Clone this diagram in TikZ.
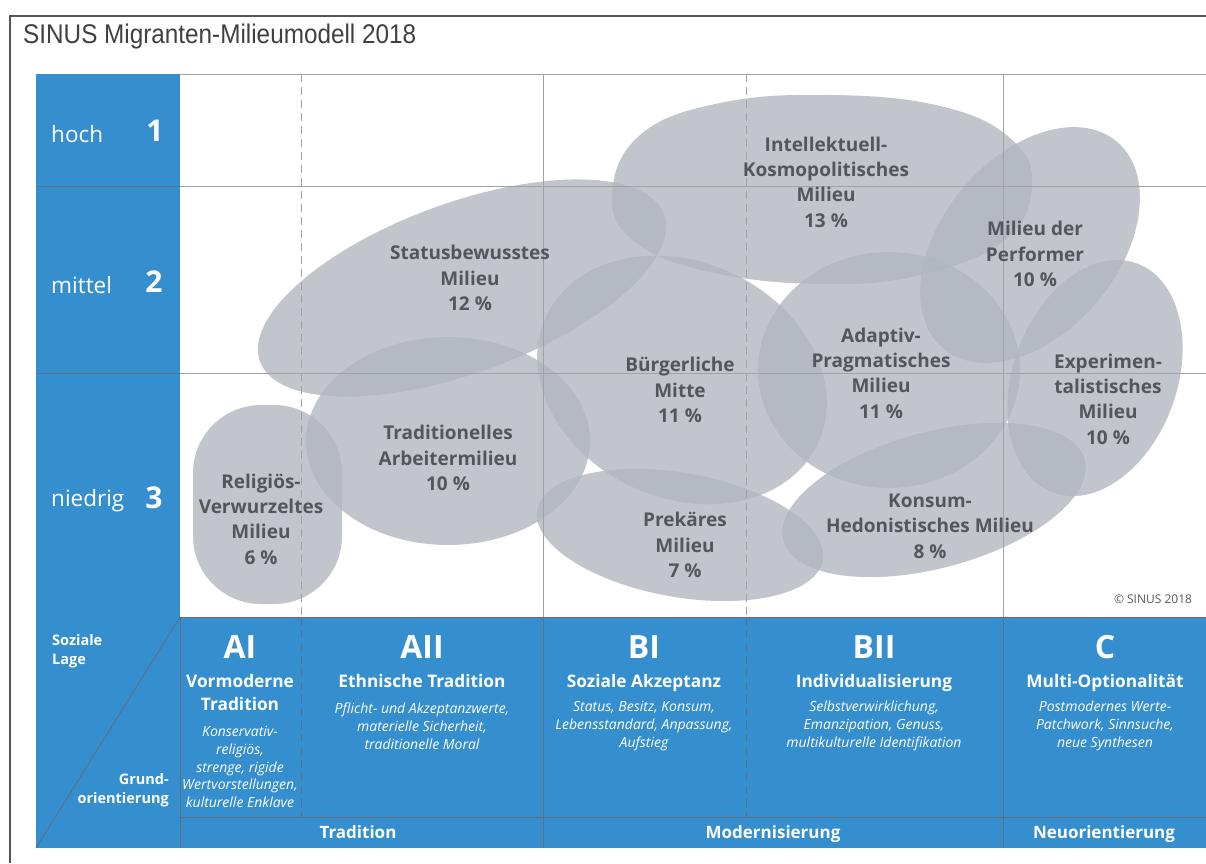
\documentclass[tikz,border=0pt]{standalone}
\usepackage{fontspec}
\setmainfont{Open Sans}
\newfontfamily\titlefont{Liberation Sans}
\definecolor{sinusblue}{RGB}{53,142,205}
\definecolor{bubblegray}{RGB}{178,182,190}
\definecolor{labelgray}{RGB}{85,86,92}
\definecolor{gridgray}{RGB}{160,162,166}
\definecolor{bandline}{RGB}{95,110,128}
\definecolor{framegray}{RGB}{85,85,85}

\begin{document}
\begin{tikzpicture}[
        x=1pt, y=-1pt,
        bubble/.style = {fill=bubblegray, fill opacity=0.78},
        milieu/.style = {align=center, text=labelgray, inner sep=0pt, font=\fontsize{19}{25.3}\selectfont\bfseries},
        grid/.style = {draw=gridgray, line width=0.9pt},
        griddash/.style = {grid, dash pattern=on 8pt off 5pt},
        bandgrid/.style = {draw=bandline, line width=0.9pt},
        banddash/.style = {bandgrid, dash pattern=on 8pt off 5pt},
        lage/.style = {anchor=west, text=white, inner sep=0pt, font=\fontsize{22.5}{26}\selectfont},
        lagenum/.style = {text=white, inner sep=0pt, font=\fontsize{30}{32}\selectfont\bfseries},
        code/.style = {text=white, inner sep=0pt, font=\fontsize{32}{34}\selectfont\bfseries},
        head/.style = {text=white, align=center, inner sep=0pt, font=\fontsize{17.3}{23}\selectfont\bfseries},
        desc/.style = {text=white, align=center, inner sep=0pt, font=\fontsize{14}{17.8}\selectfont\itshape},
        achse/.style = {text=white, inner sep=0pt, anchor=base, font=\fontsize{17}{19}\selectfont\bfseries},
        small/.style = {text=white, inner sep=0pt, font=\fontsize{14.5}{19}\selectfont\bfseries}
    ]
    \useasboundingbox (0,0) rectangle (1206,863);
    \fill[white] (0,0) rectangle (1206,863);

    % ================= RAHMEN UND TITEL =================
    \draw[framegray, line width=2pt] (10,863) -- (10,16) -- (1206,16);
    \node[anchor=west, inner sep=0pt, text=black!75, font=\titlefont\fontsize{27}{30}\selectfont] (titel) at (23,37) {\scalebox{0.9}[1]{SINUS Migranten-Milieumodell 2018}};

    % ================= MILIEUS =================
    \fill[bubble, rounded corners=68pt] (193,405) rectangle (342,604);
    \fill[bubble] (448,441) ellipse [x radius=142pt, y radius=104pt];
    \fill[bubble, rotate around={20:(462,288)}] (462,288) ellipse [x radius=215pt, y radius=85pt];
    \fill[bubble] plot[smooth cycle, tension=0.7] coordinates {(612,195) (640,135) (720,103) (830,95) (940,106) (1010,138) (1032,185) (1005,240) (920,275) (820,284) (710,272) (635,242)};
    \fill[bubble, rotate around={50:(1030,245)}] (1030,245) ellipse [x radius=135pt, y radius=88pt];
    \fill[bubble, rotate around={70:(1095,378)}] (1095,378) ellipse [x radius=122pt, y radius=82pt];
    \fill[bubble] (889,370) ellipse [x radius=131pt, y radius=118pt];
    \fill[bubble, rotate around={-25:(682,380)}] (682,380) ellipse [x radius=150pt, y radius=118pt];
    \fill[bubble, rotate around={-10:(680,535)}] (680,535) ellipse [x radius=145pt, y radius=62pt];
    \fill[bubble, rotate around={15:(934,500)}] (934,500) ellipse [x radius=156pt, y radius=68pt];

    % ================= RASTER =================
    \draw[grid] (36,74) -- (1206,74);
    \draw[grid] (36,186) -- (1206,186);
    \draw[grid] (36,373) -- (1206,373);
    \draw[grid] (543,74) -- (543,617);
    \draw[grid] (1003,74) -- (1003,617);
    \draw[griddash] (301,74) -- (301,617);
    \draw[griddash] (746,74) -- (746,617);

    % ================= BLAUE LEISTEN =================
    \fill[sinusblue] (36,74) rectangle (180,848);
    \fill[sinusblue] (36,617) rectangle (1206,848);
    \draw[bandgrid] (36,186) -- (180,186);
    \draw[bandgrid] (36,373) -- (180,373);
    \draw[bandgrid] (180,617) -- (1206,617);
    \draw[bandgrid] (36,848) -- (180,617);
    \draw[bandgrid] (180,617) -- (180,848);
    \draw[bandgrid] (180,817) -- (1206,817);
    \draw[bandgrid] (543,617) -- (543,848);
    \draw[bandgrid] (1003,617) -- (1003,848);
    \draw[banddash] (301,617) -- (301,817);
    \draw[banddash] (746,617) -- (746,817);

    % Soziale Lage
    \node[lage] (hoch) at (51,134) {hoch};
    \node[lagenum] (n1) at (155,131) {1};
    \node[lage] (mittel) at (51,285) {mittel};
    \node[lagenum] (n2) at (154,282) {2};
    \node[lage] (niedrig) at (51,501) {niedrig};
    \node[lagenum] (n3) at (154,498) {3};
    \node[small, anchor=north west, align=left] (lagetext) at (52,634) {Soziale\\Lage};
    \node[small, anchor=east, align=right] (grundtext) at (169,790) {Grund-\\orientierung};

    % Grundorientierung
    \node[code] (ai) at (240,647) {AI};
    \node[head] (aihead) at (240,692) {Vormoderne\\Tradition};
    \node[desc] (aidesc) at (240,767) {Konservativ-\\religiös,\\strenge, rigide\\Wertvorstellungen,\\kulturelle Enklave};
    \node[code] (aii) at (422,647) {AII};
    \node[head, anchor=base] (aiihead) at (422,687) {Ethnische Tradition};
    \node[desc] (aiidesc) at (422,726) {Pflicht- und Akzeptanzwerte,\\materielle Sicherheit,\\traditionelle Moral};
    \node[code] (bi) at (644,647) {BI};
    \node[head, anchor=base] (bihead) at (644,687) {Soziale Akzeptanz};
    \node[desc] (bidesc) at (644,726) {Status, Besitz, Konsum,\\Lebensstandard, Anpassung,\\Aufstieg};
    \node[code] (bii) at (874,647) {BII};
    \node[head, anchor=base] (biihead) at (874,687) {Individualisierung};
    \node[desc] (biidesc) at (874,726) {Selbstverwirklichung,\\Emanzipation, Genuss,\\multikulturelle Identifikation};
    \node[code] (c) at (1105,647) {C};
    \node[head, anchor=base] (chead) at (1105,687) {Multi-Optionalität};
    \node[desc] (cdesc) at (1105,726) {Postmodernes Werte-\\Patchwork, Sinnsuche,\\neue Synthesen};
    %
    \node[achse] (tradition) at (358,838) {Tradition};
    \node[achse] (modern) at (773,838) {Modernisierung};
    \node[achse] (neu) at (1104,838) {Neuorientierung};

    % ================= BESCHRIFTUNG MILIEUS =================
    \node[milieu] (religioes) at (261,519) {Religiös-\\Verwurzeltes\\Milieu\\6 \%};
    \node[milieu] (arbeiter) at (448,458) {Traditionelles\\Arbeitermilieu\\10 \%};
    \node[milieu] (status) at (470,278) {Statusbewusstes\\Milieu\\12 \%};
    \node[milieu] (intellekt) at (826,182) {Intellektuell-\\Kosmopolitisches\\Milieu\\13 \%};
    \node[milieu] (performer) at (1035,254) {Milieu der\\Performer\\10 \%};
    \node[milieu] (adaptiv) at (881,373) {Adaptiv-\\Pragmatisches\\Milieu\\11 \%};
    \node[milieu] (mitte) at (680,390) {Bürgerliche\\Mitte\\11 \%};
    \node[milieu] (experiment) at (1108,399) {Experimen-\\talistisches\\Milieu\\10 \%};
    \node[milieu] (prekaer) at (685,545) {Prekäres\\Milieu\\7 \%};
    \node[milieu] (konsum) at (930,526) {Konsum-\\Hedonistisches Milieu\\8 \%};
    \node[inner sep=0pt, text=labelgray, font=\fontsize{12}{14}\selectfont] (copy) at (1153,599) {© SINUS 2018};

    \end{tikzpicture}
\end{document}
